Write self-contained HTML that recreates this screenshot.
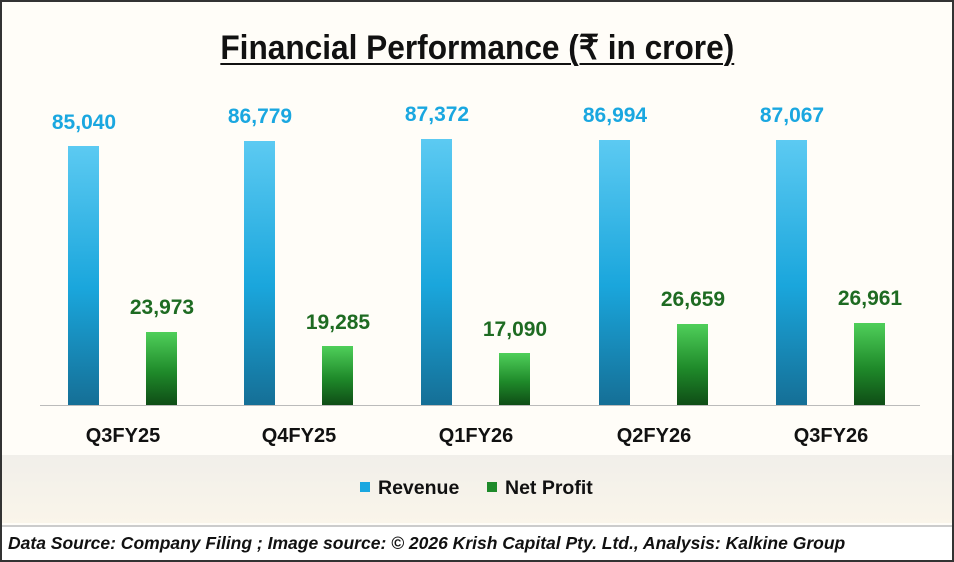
<!DOCTYPE html>
<html><head><meta charset="utf-8"><style>
*{margin:0;padding:0;box-sizing:border-box}
body{width:954px;height:562px;overflow:hidden;background:#fffdf8;font-family:"Liberation Sans",sans-serif;position:relative}
.frame{position:absolute;left:0;top:0;width:954px;height:562px;border:2px solid #333;}
.title{position:absolute;left:0;width:954px;top:28px;text-align:center;}
.title span{display:inline-block;font-size:34px;font-weight:bold;text-decoration:underline;text-decoration-thickness:2px;text-underline-offset:4px;transform:scaleX(0.93);transform-origin:center;color:#111;font-family:"Liberation Sans Narrow","Liberation Sans",sans-serif;}
.bar{position:absolute;width:31px}
.rev{background:linear-gradient(to bottom,#5ccaf2,#1aa6dc 55%,#156f96)}
.np{background:linear-gradient(to bottom,#4fcf5a,#1f8a2a 55%,#0f4d16)}
.lab{position:absolute;width:120px;text-align:center;font-weight:bold;font-size:21px}
.lr{color:#1aa7e0}.ln{color:#1e6b22}
.cat{position:absolute;width:160px;text-align:center;font-weight:bold;font-size:20px;top:425px;color:#111}
.base{position:absolute;left:40px;width:880px;top:405px;height:1px;background:#bbb}
.bg1{position:absolute;left:2px;top:455px;width:950px;height:68px;background:linear-gradient(to bottom,#f1efea,#faf5ea)}
.leg{position:absolute;top:477px;font-weight:bold;font-size:19.5px;color:#111}
.sw{display:inline-block;width:10px;height:10px;margin-right:8px;vertical-align:2px}
.foot{position:absolute;left:2px;top:525px;width:950px;height:35px;border-top:2px solid #ccc;background:#fff}
.foot span{position:absolute;left:6px;top:6px;font-style:italic;font-weight:bold;font-size:17.5px;color:#111;white-space:nowrap}
</style></head><body>
<div class="bg1"></div>
<div class="title"><span>Financial Performance (₹ in crore)</span></div>
<div class="base"></div>

<div class="bar rev" style="left:68px;top:146px;height:259px"></div>
<div class="bar np" style="left:146px;top:332px;height:73px"></div>
<div class="bar rev" style="left:244px;top:141px;height:264px"></div>
<div class="bar np" style="left:322px;top:346px;height:59px"></div>
<div class="bar rev" style="left:421px;top:139px;height:266px"></div>
<div class="bar np" style="left:499px;top:353px;height:52px"></div>
<div class="bar rev" style="left:599px;top:140px;height:265px"></div>
<div class="bar np" style="left:677px;top:324px;height:81px"></div>
<div class="bar rev" style="left:776px;top:140px;height:265px"></div>
<div class="bar np" style="left:854px;top:323px;height:82px"></div>

<div class="lab lr" style="left:24px;top:111px">85,040</div>
<div class="lab ln" style="left:102px;top:296px">23,973</div>
<div class="lab lr" style="left:200px;top:105px">86,779</div>
<div class="lab ln" style="left:278px;top:311px">19,285</div>
<div class="lab lr" style="left:377px;top:103px">87,372</div>
<div class="lab ln" style="left:455px;top:318px">17,090</div>
<div class="lab lr" style="left:555px;top:104px">86,994</div>
<div class="lab ln" style="left:633px;top:288px">26,659</div>
<div class="lab lr" style="left:732px;top:104px">87,067</div>
<div class="lab ln" style="left:810px;top:287px">26,961</div>

<div class="cat" style="left:43px">Q3FY25</div>
<div class="cat" style="left:219px">Q4FY25</div>
<div class="cat" style="left:396px">Q1FY26</div>
<div class="cat" style="left:574px">Q2FY26</div>
<div class="cat" style="left:751px">Q3FY26</div>

<div class="leg" style="left:360px"><span class="sw" style="background:#1aa7e0"></span>Revenue</div>
<div class="leg" style="left:487px"><span class="sw" style="background:#1e8a2a"></span>Net Profit</div>

<div class="foot"><span>Data Source: Company Filing ; Image source: © 2026 Krish Capital Pty. Ltd., Analysis: Kalkine Group</span></div>
<div class="frame"></div>
</body></html>
